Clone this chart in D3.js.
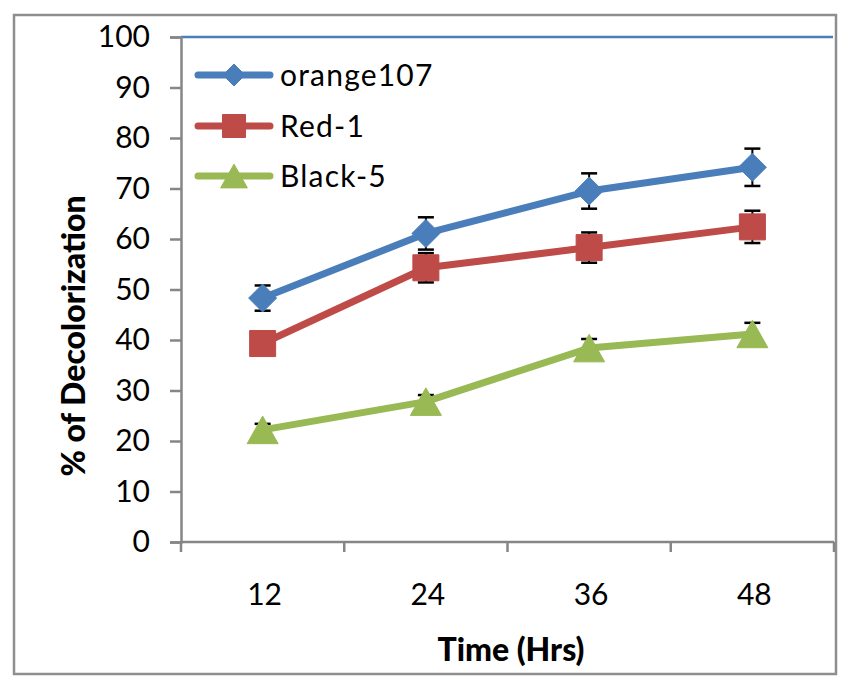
<!DOCTYPE html>
<html>
<head>
<meta charset="utf-8">
<script src="https://cdn.jsdelivr.net/npm/d3@7"></script>
<style>
  body { margin: 0; background: #fff; }
  svg { display: block; }
  text { font-family: Lato, "Open Sans", sans-serif; fill: #000; }
</style>
</head>
<body>
<svg id="chart" width="850" height="691"></svg>
<script>
// ---- data ----
const categories = ["12", "24", "36", "48"];
const seriesNames = ["orange107", "Red-1", "Black-5"];
const orange107 = [48.3, 61.1, 69.5, 74.2];
const red1 = [39.3, 54.3, 58.3, 62.4];
const black5 = [22.2, 27.8, 38.4, 41.2];
const orange107Err = [2.5, 3.2, 3.5, 3.7];
const red1Err = [1.5, 2.9, 3.0, 3.2];
const black5Err = [1.2, 1.3, 1.8, 2.2];
const yTicks = [0, 10, 20, 30, 40, 50, 60, 70, 80, 90, 100];
const colors = ["#4A7EBB", "#BE4B48", "#98B954"];
const markers = ["diamond", "square", "triangle"];

const series = [
  { name: seriesNames[0], values: orange107, err: orange107Err },
  { name: seriesNames[1], values: red1, err: red1Err },
  { name: seriesNames[2], values: black5, err: black5Err }
];

const svg = d3.select("#chart");
const pLeft = 181, pRight = 834, pTop = 37, pBottom = 542;

// outer border
svg.append("rect")
  .attr("x", 14).attr("y", 15).attr("width", 822).attr("height", 659)
  .attr("fill", "none").attr("stroke", "#8e8e8e").attr("stroke-width", 2.5);

const x = d3.scaleBand().domain(categories).range([pLeft, pRight]);
const y = d3.scaleLinear().domain([0, 100]).range([pBottom, pTop]);

// top blue line at 100
svg.append("line")
  .attr("x1", pLeft).attr("x2", pRight - 1)
  .attr("y1", y(100)).attr("y2", y(100))
  .attr("stroke", "#4A7EBB").attr("stroke-width", 2.7);

// y axis
const yAxis = svg.append("g")
  .attr("transform", `translate(${pLeft},0)`)
  .call(d3.axisLeft(y).tickValues(yTicks).tickSize(11).tickPadding(20));
yAxis.select(".domain").attr("stroke", "#868686").attr("stroke-width", 2.5);
yAxis.selectAll(".tick line").attr("stroke", "#868686").attr("stroke-width", 2.5);
yAxis.selectAll(".tick text")
  .attr("font-size", 30).attr("font-family", "Lato, sans-serif").attr("fill", "#000");

// x axis (ticks between categories)
const xAxisG = svg.append("g").attr("transform", `translate(0,${pBottom})`);
xAxisG.append("line")
  .attr("x1", pLeft).attr("x2", pRight).attr("y1", 0).attr("y2", 0)
  .attr("stroke", "#868686").attr("stroke-width", 2.5);
const boundaries = categories.map(c => x(c)).concat([x(categories[categories.length - 1]) + x.bandwidth()]);
xAxisG.selectAll("line.tk").data(boundaries).join("line")
  .attr("class", "tk")
  .attr("x1", d => d).attr("x2", d => d).attr("y1", 0).attr("y2", 10)
  .attr("stroke", "#868686").attr("stroke-width", 2.5);
xAxisG.selectAll("text").data(categories).join("text")
  .attr("x", d => x(d) + x.bandwidth() / 2 + 2)
  .attr("y", 63)
  .attr("text-anchor", "middle")
  .attr("font-size", 30)
  .text(d => d);

// axis titles
svg.append("text")
  .attr("transform", `translate(85,336) rotate(-90)`)
  .attr("text-anchor", "middle")
  .attr("font-size", 32).attr("font-weight", 900)
  .text("% of Decolorization");
svg.append("text")
  .attr("x", 511).attr("y", 661)
  .attr("text-anchor", "middle")
  .attr("font-size", 32).attr("font-weight", 900)
  .text("Time (Hrs)");

function markerPath(type, size) {
  const s = size / 2;
  if (type === "diamond") return `M0,${-s}L${s},0L0,${s}L${-s},0Z`;
  if (type === "square") return `M${-s},${-s}H${s}V${s}H${-s}Z`;
  const h = size * 0.95;
  return `M0,${-h / 2}L${s * 1.07},${h / 2}L${-s * 1.07},${h / 2}Z`;
}

const cx = d => x(d) + x.bandwidth() / 2;
const line = d3.line().x((v, i) => cx(categories[i])).y(v => y(v));

series.forEach((s, si) => {
  const g = svg.append("g");
  s.values.forEach((v, i) => {
    const px = cx(categories[i]);
    const y1 = y(v + s.err[i]), y2 = y(v - s.err[i]);
    g.append("line").attr("x1", px).attr("x2", px).attr("y1", y1).attr("y2", y2)
      .attr("stroke", "#000").attr("stroke-width", 2);
    [y1, y2].forEach(yy => g.append("line")
      .attr("x1", px - 8).attr("x2", px + 8).attr("y1", yy).attr("y2", yy)
      .attr("stroke", "#000").attr("stroke-width", 2.5));
  });
  g.append("path").datum(s.values)
    .attr("d", line)
    .attr("fill", "none").attr("stroke", colors[si]).attr("stroke-width", 7)
    .attr("stroke-linejoin", "round").attr("stroke-linecap", "round");
  const sz = markers[si] === "diamond" ? 28 : (markers[si] === "square" ? 26 : 29);
  g.selectAll("path.m").data(s.values).join("path")
    .attr("class", "m")
    .attr("transform", (v, i) => `translate(${cx(categories[i])},${y(v)})`)
    .attr("d", markerPath(markers[si], sz))
    .attr("fill", colors[si]).attr("stroke", colors[si]).attr("stroke-width", 1)
    .attr("stroke-linejoin", markers[si] === "square" ? "round" : "miter");
});

// legend
const legendY = [75, 126, 176];
series.forEach((s, si) => {
  const g = svg.append("g").attr("transform", `translate(0,${legendY[si]})`);
  g.append("line").attr("x1", 198).attr("x2", 270).attr("y1", 0).attr("y2", 0)
    .attr("stroke", colors[si]).attr("stroke-width", 7).attr("stroke-linecap", "round");
  const sz = markers[si] === "diamond" ? 22 : (markers[si] === "square" ? 23 : 25);
  g.append("path").attr("transform", "translate(234,0)")
    .attr("d", markerPath(markers[si], sz))
    .attr("fill", colors[si]).attr("stroke", colors[si]).attr("stroke-width", 1);
  g.append("text").attr("x", 280).attr("y", 0).attr("dy", "0.36em")
    .attr("font-size", 30).attr("letter-spacing", 1.2)
    .text(s.name);
});
</script>
</body>
</html>
